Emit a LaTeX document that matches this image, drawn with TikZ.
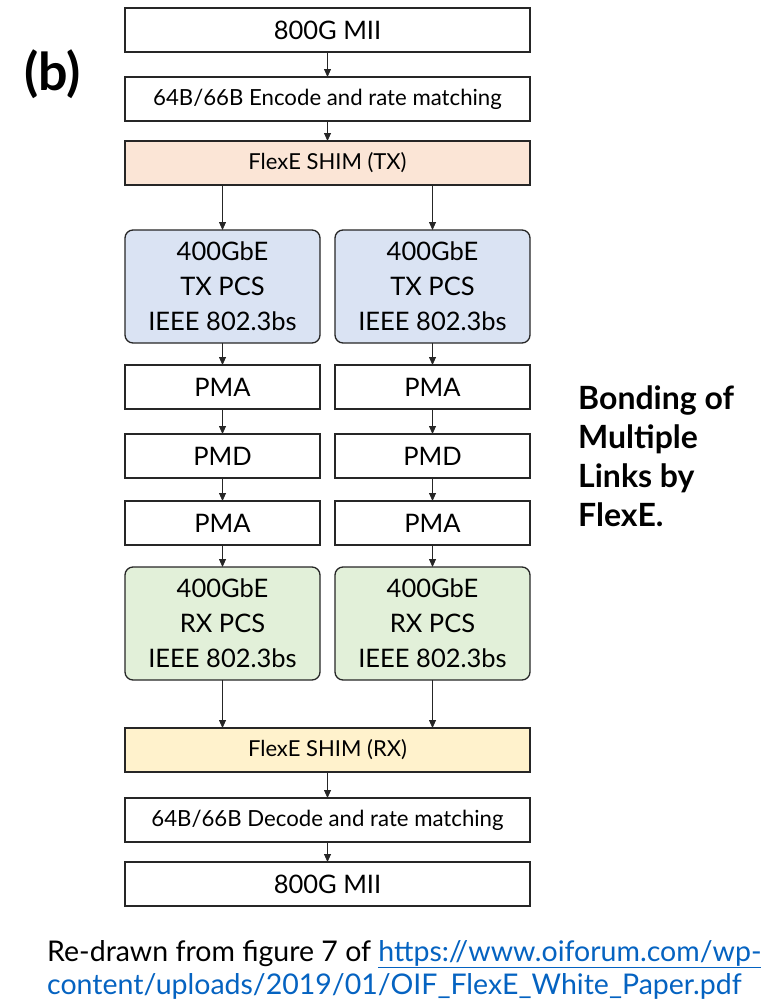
\documentclass[tikz,border=0pt]{standalone}
\usepackage{fontspec}
\setmainfont{Lato}
\usetikzlibrary{arrows.meta, positioning}

\definecolor{shimtx}{HTML}{FBE5D6}
\definecolor{shimrx}{HTML}{FFF2CC}
\definecolor{pcstx}{HTML}{DAE3F3}
\definecolor{pcsrx}{HTML}{E2F0D9}
\definecolor{linkblue}{HTML}{0563C1}

\begin{document}
\begin{tikzpicture}[
    x=1pt, y=-1pt,
    node distance=25pt and 17pt,
    box/.style={draw=black!85, line width=1.3pt, minimum height=44pt, inner sep=0pt, outer sep=0pt, align=center, fill=#1},
    box/.default=white,
    wide/.style={box=#1, minimum width=405pt},
    wide/.default=white,
    narrow/.style={box=#1, minimum width=195pt},
    narrow/.default=white,
    pcs/.style={narrow=#1, rounded corners=8pt, minimum height=113pt},
    big/.style={font=\fontsize{25.5}{35}\selectfont},
    small/.style={font=\fontsize{22.2}{26}\selectfont},
    shim/.style={font=\fontsize{22}{26}\selectfont},
    arrow/.style={-{Triangle[length=8pt, width=7pt]}, line width=0.8pt, draw=black!85},
]
\useasboundingbox (0,0) rectangle (766,999);

% transmit side
\node[wide, big] (miitx) at (327.5,30) {800G MII};
\node[wide, small, below=25pt of miitx] (enc) {64B/66B Encode and rate matching};
\node[wide=shimtx, shim, below=20pt of enc] (shimtx) {FlexE SHIM (TX)};

% two parallel 400GbE lanes
\node[pcs=pcstx, big, below=45pt of shimtx.south west, anchor=north west] (pcstxa) {400GbE\\TX PCS\\IEEE 802.3bs};
\node[pcs=pcstx, big, below=45pt of shimtx.south east, anchor=north east] (pcstxb) {400GbE\\TX PCS\\IEEE 802.3bs};
\node[narrow, big, below=22pt of pcstxa] (pmaa) {PMA};
\node[narrow, big, below=22pt of pcstxb] (pmab) {PMA};
\node[narrow, big, below=25pt of pmaa] (pmda) {PMD};
\node[narrow, big, below=25pt of pmab] (pmdb) {PMD};
\node[narrow, big, below=23pt of pmda] (pmaa2) {PMA};
\node[narrow, big, below=23pt of pmdb] (pmab2) {PMA};
\node[pcs=pcsrx, big, below=22pt of pmaa2] (pcsrxa) {400GbE\\RX PCS\\IEEE 802.3bs};
\node[pcs=pcsrx, big, below=22pt of pmab2] (pcsrxb) {400GbE\\RX PCS\\IEEE 802.3bs};

% receive side
\node[wide=shimrx, shim, below=48pt of pcsrxa.south west, anchor=north west] (shimrx) {FlexE SHIM (RX)};
\node[wide, small, below=26pt of shimrx] (dec) {64B/66B Decode and rate matching};
\node[wide, big, below=20pt of dec] (miirx) {800G MII};

\draw[arrow] (miitx) -- (enc);
\draw[arrow] (enc) -- (shimtx);
\draw[arrow] (shimtx.south -| pcstxa) -- (pcstxa);
\draw[arrow] (shimtx.south -| pcstxb) -- (pcstxb);
\foreach \lane in {a,b} {
  \draw[arrow] (pcstx\lane) -- (pma\lane);
  \draw[arrow] (pma\lane) -- (pmd\lane);
  \draw[arrow] (pmd\lane) -- (pma\lane2);
  \draw[arrow] (pma\lane2) -- (pcsrx\lane);
  \draw[arrow] (pcsrx\lane) -- (shimrx.north -| pcsrx\lane);
}
\draw[arrow] (shimrx) -- (dec);
\draw[arrow] (dec) -- (miirx);

% labels
\node[font=\fontsize{52}{58}\selectfont\bfseries, anchor=west, inner sep=0pt] (tag) at (24,74) {(b)};
\node[font=\fontsize{32}{38.7}\selectfont\bfseries, align=left, anchor=north west, inner sep=0pt] (title) at (578,386) {Bonding of\\Multiple\\Links by\\FlexE.};
\node[font=\fontsize{28.5}{33}\selectfont, align=left, anchor=north west, inner sep=0pt] (source) at (47,940)
  {Re-drawn from figure 7 of \textcolor{linkblue}{\underline{https://www.oiforum.com/wp-}}\\
   \textcolor{linkblue}{\underline{content/uploads/2019/01/OIF\_FlexE\_White\_Paper.pdf}}};
\end{tikzpicture}
\end{document}
